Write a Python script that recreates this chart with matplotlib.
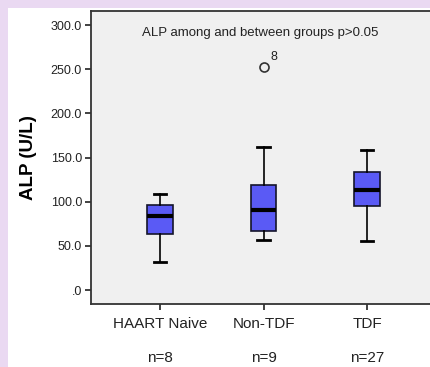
import matplotlib.pyplot as plt
from matplotlib.patches import Rectangle
import matplotlib.transforms as mtransforms

# === Daten ===
groups = ["HAART Naive", "Non-TDF", "TDF"]
n_labels = ["n=8", "n=9", "n=27"]
whisker_low = [31.3, 56.6, 55.5]
q1 = [63.0, 66.4, 94.7]
median = [83.8, 90.6, 113.2]
q3 = [96.2, 118.5, 133.9]
whisker_high = [108.3, 161.9, 158.5]
outliers = [[], [252.8], []]
outlier_ids = [[], ["8"], []]
yticks = [0, 50, 100, 150, 200, 250, 300]
ytick_labels = [".0", "50.0", "100.0", "150.0", "200.0", "250.0", "300.0"]

plt.rcParams["font.family"] = ["Liberation Sans", "DejaVu Sans"]

W, H = 431, 367
fig = plt.figure(figsize=(W / 100, H / 100), dpi=100)
fig.patch.set_facecolor("#ead9f2")
# weisser Rahmen innerhalb des lila Hintergrunds
fig.patches.append(Rectangle((8 / W, 0), 1, (H - 8) / H, transform=fig.transFigure,
                             facecolor="white", edgecolor="none", zorder=-10))

left, right, top, bottom = 91, 436, 11, 304
ax = fig.add_axes([left / W, 1 - bottom / H, (right - left) / W, (bottom - top) / H])
ax.set_zorder(1)
ax.set_facecolor("#f0f0f0")

stats = []
for i in range(len(groups)):
    stats.append({
        "whislo": whisker_low[i], "q1": q1[i], "med": median[i],
        "q3": q3[i], "whishi": whisker_high[i], "fliers": outliers[i],
    })

positions = [1, 2, 3]
ax.bxp(stats, positions=positions, widths=0.25, patch_artist=True, showfliers=True,
       boxprops=dict(facecolor="#5a5af5", edgecolor="#15152a", linewidth=1.2),
       medianprops=dict(color="black", linewidth=3),
       whiskerprops=dict(color="black", linewidth=1.2),
       capprops=dict(color="black", linewidth=2),
       capwidths=0.125,
       flierprops=dict(marker="o", markerfacecolor="none", markeredgecolor="#333333",
                       markersize=6.5, markeredgewidth=1.2))

for i, ids in enumerate(outlier_ids):
    for val, lab in zip(outliers[i], ids):
        ax.annotate(lab, (positions[i], val), xytext=(5, 5), textcoords="offset points",
                    fontsize=9, color="#222222")

ax.set_xlim(1 - 0.667, 3 + 0.667)
ax.set_ylim(-15.8, 316)
ax.set_yticks(yticks)
ax.set_yticklabels(ytick_labels)
ax.set_xticks(positions)
ax.set_xticklabels(groups)

ax.spines["right"].set_visible(False)
for s in ["left", "top", "bottom"]:
    ax.spines[s].set_color("#333333")
    ax.spines[s].set_linewidth(1.3)

ax.tick_params(axis="y", direction="out", length=4.5, width=1.3, colors="#333333",
               labelsize=9, labelcolor="#222222", pad=2)
ax.tick_params(axis="x", direction="out", length=4.5, width=1.3, colors="#333333",
               labelsize=11, labelcolor="#222222", pad=5)

ax.set_ylabel("ALP (U/L)", fontsize=13.5, fontweight="bold", labelpad=10)

ax.text((260 - left) / (right - left), 1 - (33 - top) / (bottom - top),
        "ALP among and between groups p>0.05", transform=ax.transAxes,
        fontsize=9.5, ha="center", va="center", color="#222222")

trans = mtransforms.blended_transform_factory(ax.transData, fig.transFigure)
for p, lab in zip(positions, n_labels):
    ax.text(p, 1 - 358 / H, lab, transform=trans, ha="center", va="center",
            fontsize=11, color="#222222")

fig.savefig("out.png", dpi=100, facecolor=fig.get_facecolor())
